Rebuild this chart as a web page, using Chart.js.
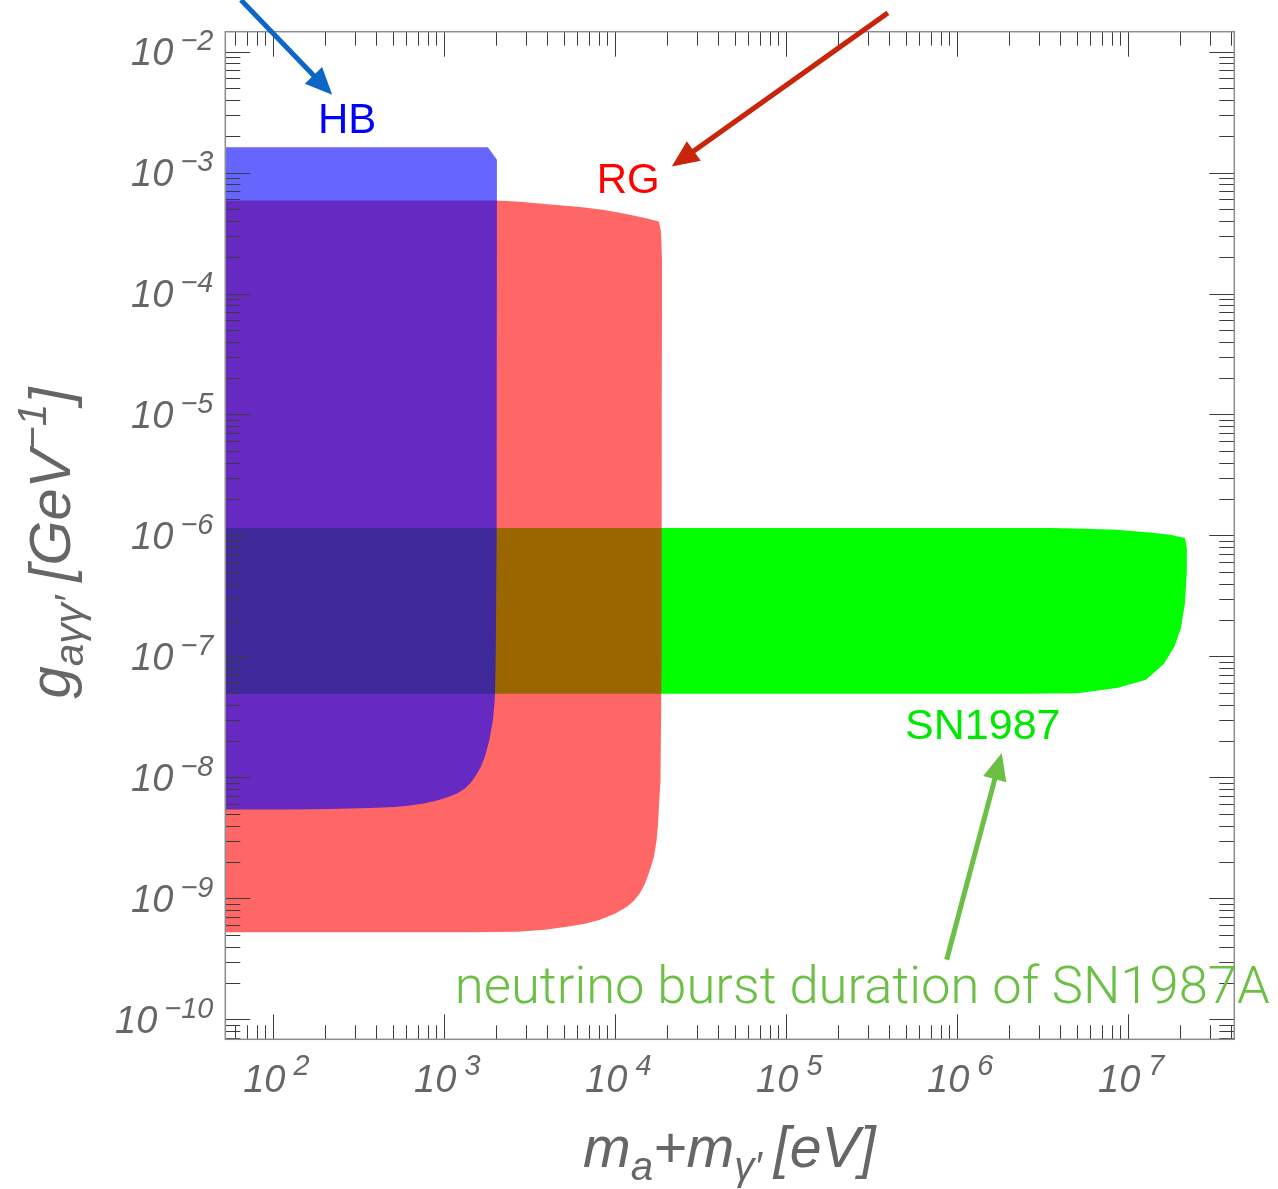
<!DOCTYPE html>
<html><head><meta charset="utf-8">
<script src="https://cdn.jsdelivr.net/npm/chart.js@4/dist/chart.umd.min.js"></script>
<style>html,body{margin:0;padding:0;background:#fff;overflow:hidden}</style>
</head><body>
<canvas id="c" width="1278" height="1189"></canvas>
<script>
// ---- axis ranges (eV, GeV^-1) ----
const X_MIN = 52.4, X_MAX = 4.17e7;
const Y_MIN = 6.84e-11, Y_MAX = 1.46e-2;
const xTickExponents = [2, 3, 4, 5, 6, 7];
const yTickExponents = [-2, -3, -4, -5, -6, -7, -8, -9, -10];

// ---- excluded regions, boundary polygons [mass, coupling] ----
const snRegion = [
  [40, 1.151e-6], [3.484e6, 1.151e-6], [5.58e6, 1.136e-6], [8.55e6, 1.114e-6],
  [1.339e7, 1.059e-6], [1.754e7, 1.013e-6], [2.146e7, 9.52e-7],
  [2.202e7, 7.76e-7], [2.199e7, 4.91e-7], [2.146e7, 2.78e-7], [2.033e7, 1.72e-7],
  [1.863e7, 1.21e-7], [1.617e7, 8.70e-8], [1.269e7, 6.41e-8], [8.71e6, 5.51e-8],
  [5.08e6, 4.96e-8], [2.33e6, 4.92e-8], [40, 4.92e-8], [40, 1.151e-6]
];
const rgRegion = [
  [40, 5.87e-4], [2000, 5.87e-4], [2772, 5.75e-4], [4323, 5.41e-4], [6218, 5.20e-4],
  [8474, 4.92e-4], [11400, 4.56e-4], [14920, 4.22e-4], [18010, 3.94e-4],
  [18510, 3.24e-4], [18760, 1.90e-4], [18760, 8.87e-5], [18700, 1e-5], [18680, 1e-7],
  [18380, 9.57e-9], [18010, 5.73e-9], [17770, 4.06e-9], [17460, 3.05e-9],
  [16840, 2.21e-9], [15740, 1.63e-9], [14920, 1.32e-9], [13950, 1.11e-9],
  [12870, 9.57e-10], [11710, 8.54e-10], [9959, 7.47e-10], [8139, 6.67e-10],
  [6651, 6.18e-10], [5219, 5.83e-10], [3881, 5.51e-10], [2662, 5.31e-10],
  [1414, 5.24e-10], [40, 5.24e-10], [40, 5.87e-4]
];
const hbRegion = [
  [40, 1.622e-3], [1799, 1.622e-3], [2032, 1.274e-3], [2030, 1e-4], [2018, 1e-6],
  [2001, 1.140e-7], [1988, 6.44e-8], [1974, 4.40e-8], [1927, 3.01e-8], [1838, 2.06e-8],
  [1730, 1.49e-8], [1639, 1.23e-8], [1543, 1.057e-8], [1432, 9.07e-9], [1321, 8.10e-9],
  [1187, 7.36e-9], [1037, 6.82e-9], [906, 6.44e-9], [761, 6.08e-9], [630, 5.86e-9],
  [515, 5.69e-9], [368, 5.59e-9], [215, 5.48e-9], [125, 5.43e-9], [40, 5.43e-9],
  [40, 1.622e-3]
];

// ---- annotations (data coordinates) ----
const arrows = [
  {from: [64.7, 2.67e-2], to: [221, 4.39e-3], color: '#0b66c6'},
  {from: [3.93e5, 2.09e-2], to: [2.14e4, 1.12e-3], color: '#c8260c'},
  {from: [8.67e5, 3.11e-10], to: [1.82e6, 1.59e-8], color: '#6cbf45'}
];
const labels = [
  {text: 'HB', at: [270, 2.12e-3], color: '#0000ff', size: 42, align: 'center'},
  {text: 'RG', at: [1.19e4, 6.76e-4], color: '#ff0000', size: 42, align: 'center'},
  {text: 'SN1987', at: [1.41e6, 2.07e-8], color: '#00e800', size: 43, align: 'center'},
  {text: 'neutrino burst duration of SN1987A', at: [1153, 1.37e-10], color: '#6cbf45', size: 52, align: 'left', light: true, width: 815}
];

const FONT = '"Liberation Sans", Arial, Helvetica, sans-serif';
const GRAY = '#666666';

function toPts(arr) { return arr.map(([x, y]) => ({x, y})); }

function drawRich(ctx, parts, size) {
  let w = 0;
  for (const p of parts) {
    ctx.font = `italic ${size * p.s}px ${FONT}`;
    p.w = ctx.measureText(p.t).width;
    w += p.w + (p.gap || 0);
  }
  return w;
}
function paintRich(ctx, parts, size, x0, y0) {
  let x = x0;
  for (const p of parts) {
    ctx.font = `italic ${size * p.s}px ${FONT}`;
    ctx.fillText(p.t, x, y0 + (p.dy || 0) * size);
    x += p.w + (p.gap || 0);
  }
}
function fitRich(ctx, parts, size, target) {
  const w = drawRich(ctx, parts, size);
  const s = size * target / w;
  return {size: s, width: drawRich(ctx, parts, s)};
}

const framePlugin = {
  id: 'frame',
  afterDatasetsDraw(chart) {
    const {ctx, chartArea: a, scales: {x, y}} = chart;
    ctx.save();
    ctx.strokeStyle = '#3c3c3c';
    ctx.lineWidth = 1;
    const seg = (x1, y1, x2, y2) => { ctx.beginPath(); ctx.moveTo(x1, y1); ctx.lineTo(x2, y2); ctx.stroke(); };
    for (let d = 1; d <= 8; d++) for (let m = 1; m <= 9; m++) {
      const v = m * Math.pow(10, d);
      if (v < X_MIN || v > X_MAX) continue;
      const px = Math.round(x.getPixelForValue(v)) + 0.5;
      const len = m === 1 ? 25 : 14;
      seg(px, a.bottom, px, a.bottom - len);
      seg(px, a.top, px, a.top + len);
    }
    for (let d = -11; d <= -1; d++) for (let m = 1; m <= 9; m++) {
      const v = m * Math.pow(10, d);
      if (v < Y_MIN || v > Y_MAX) continue;
      const py = Math.round(y.getPixelForValue(v)) + 0.5;
      const len = m === 1 ? 25 : 15;
      seg(a.left, py, a.left + len, py);
      seg(a.right, py, a.right - len, py);
    }
    ctx.strokeStyle = '#8c8c8c';
    ctx.lineWidth = 1.5;
    ctx.strokeRect(a.left, a.top, a.right - a.left, a.bottom - a.top);
    ctx.restore();
  },
  afterDraw(chart) {
    const {ctx, chartArea: a, scales: {x, y}} = chart;
    ctx.save();
    ctx.fillStyle = GRAY;
    ctx.textBaseline = 'alphabetic';
    ctx.textAlign = 'left';
    // y tick labels
    for (const e of yTickExponents) {
      const py = y.getPixelForValue(Math.pow(10, e));
      const parts = [{t: '10', s: 1, gap: 7}, {t: '\u2212' + Math.abs(e), s: 0.76, dy: -0.41}];
      const w = drawRich(ctx, parts, 38);
      paintRich(ctx, parts, 38, a.left - 12 - w, py + 13.8);
    }
    // x tick labels
    for (const e of xTickExponents) {
      const px = x.getPixelForValue(Math.pow(10, e));
      const parts = [{t: '10', s: 1, gap: 8}, {t: String(e), s: 0.76, dy: -0.45}];
      const w = drawRich(ctx, parts, 38);
      paintRich(ctx, parts, 38, px + 3 - w / 2, a.bottom + 52.5);
    }
    // x title
    const xt = [{t: 'm', s: 1}, {t: 'a', s: 0.7, dy: 0.22}, {t: '+m', s: 1}, {t: '\u03b3\u2032', s: 0.7, dy: 0.22, gap: 12}, {t: '[eV]', s: 1}];
    const xf = fitRich(ctx, xt, 52, 294);
    paintRich(ctx, xt, xf.size, 583, a.bottom + 128);
    // y title (rotated)
    const yt = [{t: 'g', s: 1}, {t: 'a\u03b3\u03b3\u2032', s: 0.7, dy: 0.22, gap: 14}, {t: '[GeV', s: 1}, {t: '\u22121', s: 0.7, dy: -0.42}, {t: ']', s: 1}];
    const yf = fitRich(ctx, yt, 54, 312);
    ctx.save();
    ctx.translate(70, 543);
    ctx.rotate(-Math.PI / 2);
    paintRich(ctx, yt, yf.size, -yf.width / 2, 0);
    ctx.restore();

    // arrows
    for (const ar of arrows) {
      const x1 = x.getPixelForValue(ar.from[0]), y1 = y.getPixelForValue(ar.from[1]);
      const x2 = x.getPixelForValue(ar.to[0]), y2 = y.getPixelForValue(ar.to[1]);
      const ang = Math.atan2(y2 - y1, x2 - x1);
      const hl = 27, hw = 12;
      const bx = x2 - hl * Math.cos(ang), by = y2 - hl * Math.sin(ang);
      ctx.strokeStyle = ar.color; ctx.fillStyle = ar.color;
      ctx.lineWidth = 5; ctx.lineCap = 'butt';
      ctx.beginPath(); ctx.moveTo(x1, y1); ctx.lineTo(bx + 2 * Math.cos(ang), by + 2 * Math.sin(ang)); ctx.stroke();
      ctx.beginPath();
      ctx.moveTo(x2, y2);
      ctx.lineTo(bx - hw * Math.sin(ang), by + hw * Math.cos(ang));
      ctx.lineTo(bx + hw * Math.sin(ang), by - hw * Math.cos(ang));
      ctx.closePath(); ctx.fill();
    }
    // text labels
    for (const lb of labels) {
      const px = x.getPixelForValue(lb.at[0]), py = y.getPixelForValue(lb.at[1]);
      let size = lb.size;
      const weight = lb.light ? '300 ' : '';
      const fam = lb.light ? '"Helvetica Neue", "Roboto", "Liberation Sans", sans-serif' : FONT;
      ctx.font = `${weight}${size}px ${fam}`;
      if (lb.width) {
        const w = ctx.measureText(lb.text).width;
        size = size * lb.width / w;
        ctx.font = `${weight}${size}px ${fam}`;
      }
      ctx.fillStyle = lb.color;
      ctx.textAlign = lb.align;
      ctx.fillText(lb.text, px, py);
    }
    ctx.restore();
  }
};

const base = {showLine: true, fill: 'shape', borderWidth: 0, borderColor: 'rgba(0,0,0,0)', pointRadius: 0, pointHoverRadius: 0, tension: 0};
new Chart(document.getElementById('c'), {
  type: 'line',
  data: {
    datasets: [
      Object.assign({label: 'SN1987', data: toPts(snRegion), backgroundColor: '#00ff00', order: 3}, base),
      Object.assign({label: 'RG', data: toPts(rgRegion), backgroundColor: 'rgba(255,0,0,0.6)', order: 2}, base),
      Object.assign({label: 'HB', data: toPts(hbRegion), backgroundColor: 'rgba(0,0,255,0.6)', order: 1}, base)
    ]
  },
  options: {
    responsive: false,
    animation: false,
    devicePixelRatio: 1,
    layout: {padding: {left: 225.3, top: 31.7, right: 1278 - 1234.3, bottom: 1189 - 1039.3}},
    scales: {
      x: {type: 'logarithmic', min: X_MIN, max: X_MAX, display: false},
      y: {type: 'logarithmic', min: Y_MIN, max: Y_MAX, display: false}
    },
    plugins: {legend: {display: false}, tooltip: {enabled: false}},
    events: []
  },
  plugins: [framePlugin]
});
</script>
</body></html>
